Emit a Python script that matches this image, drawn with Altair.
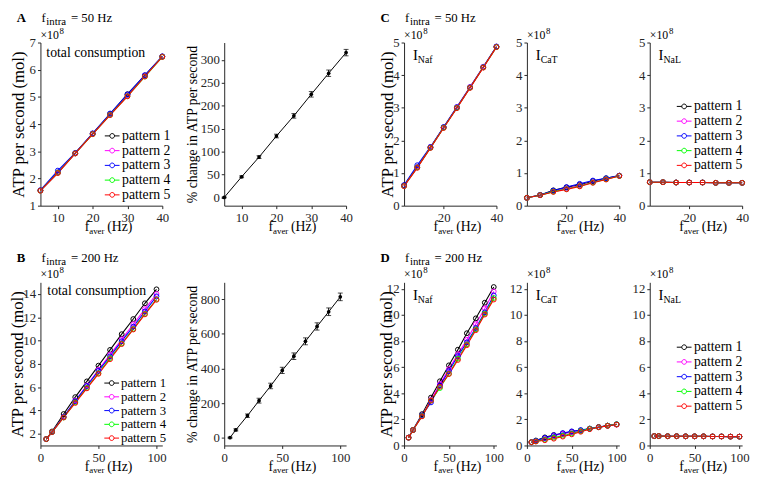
import altair as alt
import pandas as pd

FONT = "Liberation Serif"
INK = "#262626"

# ---------------- data ----------------
patterns = ["pattern 1", "pattern 2", "pattern 3", "pattern 4", "pattern 5"]
pattern_colors = ["#000000", "#ff00ff", "#0000ff", "#00ff00", "#ff0000"]

f_aver_50 = [5, 10, 15, 20, 25, 30, 35, 40]
f_aver_200 = [5, 10, 20, 30, 40, 50, 60, 70, 80, 90, 100]

total_50 = {
    "pattern 1": [1.56, 2.22, 2.93, 3.65, 4.37, 5.10, 5.79, 6.49],
    "pattern 2": [1.55, 2.21, 2.92, 3.64, 4.35, 5.06, 5.77, 6.48],
    "pattern 3": [1.57, 2.29, 2.94, 3.66, 4.39, 5.09, 5.80, 6.49],
    "pattern 4": [1.55, 2.21, 2.92, 3.63, 4.34, 5.03, 5.75, 6.47],
    "pattern 5": [1.55, 2.20, 2.92, 3.63, 4.33, 5.02, 5.75, 6.47],
}
pct_50_mean = [0, 45, 88, 134, 178, 225, 271, 316]
pct_50_err = [1, 2, 3, 4, 5, 6, 7, 7]

total_200 = {
    "pattern 1": [1.55, 2.20, 3.70, 5.15, 6.50, 7.85, 9.20, 10.55, 11.85, 13.20, 14.40],
    "pattern 2": [1.55, 2.15, 3.45, 4.85, 6.15, 7.50, 8.80, 10.10, 11.40, 12.70, 14.00],
    "pattern 3": [1.55, 2.15, 3.45, 4.80, 6.10, 7.40, 8.65, 9.95, 11.20, 12.50, 13.80],
    "pattern 4": [1.55, 2.15, 3.40, 4.70, 5.95, 7.20, 8.50, 9.75, 11.00, 12.30, 13.55],
    "pattern 5": [1.55, 2.15, 3.40, 4.65, 5.90, 7.15, 8.40, 9.70, 10.95, 12.25, 13.50],
}
pct_200_mean = [0, 45, 127, 214, 299, 389, 471, 557, 643, 728, 814]
pct_200_err = [3, 6, 10, 14, 16, 18, 19, 20, 21, 22, 22]

naf_50 = {
    "pattern 1": [0.62, 1.18, 1.78, 2.40, 3.00, 3.62, 4.24, 4.87],
    "pattern 2": [0.60, 1.18, 1.80, 2.40, 3.02, 3.64, 4.26, 4.87],
    "pattern 3": [0.63, 1.24, 1.80, 2.41, 3.02, 3.63, 4.25, 4.88],
    "pattern 4": [0.60, 1.17, 1.78, 2.39, 3.00, 3.62, 4.24, 4.86],
    "pattern 5": [0.60, 1.16, 1.77, 2.38, 2.99, 3.61, 4.23, 4.86],
}
cat_50 = {
    "pattern 1": [0.24, 0.33, 0.47, 0.56, 0.64, 0.75, 0.84, 0.92],
    "pattern 2": [0.24, 0.32, 0.44, 0.53, 0.62, 0.72, 0.82, 0.92],
    "pattern 3": [0.24, 0.33, 0.46, 0.57, 0.67, 0.77, 0.84, 0.92],
    "pattern 4": [0.24, 0.32, 0.43, 0.51, 0.60, 0.71, 0.81, 0.91],
    "pattern 5": [0.24, 0.32, 0.42, 0.50, 0.59, 0.70, 0.80, 0.91],
}
nal_50 = {
    "pattern 1": [0.72, 0.72, 0.71, 0.71, 0.71, 0.70, 0.70, 0.70],
    "pattern 2": [0.72, 0.72, 0.71, 0.71, 0.71, 0.70, 0.70, 0.70],
    "pattern 3": [0.72, 0.72, 0.71, 0.71, 0.71, 0.70, 0.70, 0.70],
    "pattern 4": [0.72, 0.72, 0.71, 0.71, 0.71, 0.70, 0.70, 0.70],
    "pattern 5": [0.72, 0.72, 0.71, 0.71, 0.71, 0.70, 0.70, 0.70],
}
naf_200 = {
    "pattern 1": [0.60, 1.20, 2.40, 3.67, 4.92, 6.14, 7.34, 8.60, 9.74, 10.94, 12.14],
    "pattern 2": [0.60, 1.18, 2.30, 3.50, 4.70, 5.85, 7.00, 8.10, 9.30, 10.50, 11.80],
    "pattern 3": [0.60, 1.18, 2.30, 3.30, 4.60, 5.70, 6.85, 7.90, 9.00, 10.20, 11.50],
    "pattern 4": [0.60, 1.18, 2.25, 3.45, 4.40, 5.50, 6.65, 7.75, 8.90, 10.10, 11.30],
    "pattern 5": [0.60, 1.18, 2.23, 3.43, 4.50, 5.47, 6.55, 7.68, 8.83, 10.03, 11.18],
}
cat_200 = {
    "pattern 1": [0.25, 0.38, 0.62, 0.80, 0.92, 1.05, 1.15, 1.28, 1.40, 1.52, 1.62],
    "pattern 2": [0.25, 0.35, 0.55, 0.75, 0.90, 1.02, 1.13, 1.27, 1.40, 1.52, 1.60],
    "pattern 3": [0.25, 0.36, 0.58, 0.78, 0.95, 1.08, 1.18, 1.30, 1.42, 1.52, 1.62],
    "pattern 4": [0.25, 0.32, 0.45, 0.60, 0.75, 0.92, 1.10, 1.28, 1.40, 1.52, 1.62],
    "pattern 5": [0.25, 0.30, 0.40, 0.52, 0.68, 0.85, 1.05, 1.25, 1.40, 1.50, 1.60],
}
nal_200 = {
    "pattern 1": [0.72, 0.72, 0.71, 0.71, 0.70, 0.70, 0.70, 0.69, 0.69, 0.68, 0.68],
    "pattern 2": [0.72, 0.72, 0.71, 0.71, 0.70, 0.70, 0.70, 0.69, 0.69, 0.68, 0.68],
    "pattern 3": [0.72, 0.72, 0.71, 0.71, 0.70, 0.70, 0.70, 0.69, 0.69, 0.68, 0.68],
    "pattern 4": [0.72, 0.72, 0.71, 0.71, 0.70, 0.70, 0.70, 0.69, 0.69, 0.68, 0.68],
    "pattern 5": [0.72, 0.72, 0.71, 0.71, 0.70, 0.70, 0.70, 0.69, 0.69, 0.68, 0.68],
}

ticks_50 = [10, 20, 30, 40]
ticks_50_c = [20, 40]
ticks_200 = [0, 50, 100]

# ---------------- layout ----------------
H = 166
W_WIDE = 124
W_NARROW = 94
ROW_GAP = 78
HEAD_Y = -21

LEGEND_PATH = "M-1.25,0L-0.4,0M0.4,0L1.25,0M-0.4,0A0.4,0.4,0,1,1,0.4,0A0.4,0.4,0,1,1,-0.4,0"
DUMMY = pd.DataFrame({"k": [0]})

AXIS_STYLE = dict(labelFont=FONT, labelFontSize=13, labelColor=INK, titleFont=FONT,
                  titleFontWeight="normal", titleColor="black", domainColor=INK,
                  tickColor=INK, tickSize=3, grid=False,
                  labelFlush=False, labelOverlap=False, domainWidth=1, tickWidth=1)


def axis(values, pad=2, **kw):
    return alt.Axis(values=values, labelPadding=pad, **AXIS_STYLE, **kw)


def txt(text, x, y, size=13, weight="normal"):
    return alt.Chart(DUMMY).mark_text(
        text=text, font=FONT, fontSize=size, fontWeight=weight,
        align="left", baseline="alphabetic", color="black"
    ).encode(x=alt.value(x), y=alt.value(y))


def x_title(w):
    c = w / 2 + 3
    return [txt("f", c - 20, H + 26, 14), txt("aver", c - 15.3, H + 28.5, 9),
            txt("(Hz)", c + 3, H + 26, 14)]


def heading(letter, freq_text):
    return [txt(letter, -24, HEAD_Y, 13, "bold"), txt("f", 1, HEAD_Y, 13),
            txt("intra", 6, HEAD_Y + 3, 11), txt(freq_text, 31, HEAD_Y, 13)]


def times_ten():
    return [txt("×10", 0, -4, 12), txt("8", 19.5, -9, 9)]


def current_label(sub):
    return [txt("I", 9, 18, 15), txt(sub, 14, 21, 10)]


def long_table(x, table):
    return pd.DataFrame([{"f": xi, "v": v, "pattern": p}
                         for p in patterns for xi, v in zip(x, table[p])])


def pattern_legend(lx, ly, row_pad, size=14):
    return alt.Legend(orient="none", legendX=lx, legendY=ly, title=None,
                      labelFont=FONT, labelFontSize=size, labelColor="black",
                      symbolType=LEGEND_PATH, symbolSize=144, symbolStrokeWidth=1,
                      symbolFillColor="transparent", padding=0, rowPadding=row_pad,
                      labelOffset=3, offset=0)


def atp_panel(x, table, xdom, xticks, ydom, yticks, w, extras, ytitle_x=None, legend=None):
    data = long_table(x, table)
    if ytitle_x is None:
        yaxis = axis(yticks, title=None)
    else:
        yaxis = axis(yticks, title="ATP per second (mol)", titleFontSize=17,
                     titleX=ytitle_x, titleY=H / 2, titleAngle=270,
                     titleBaseline="bottom", titleAlign="center")
    X = alt.X("f:Q", scale=alt.Scale(domain=xdom, nice=False, zero=False),
              axis=axis(xticks, pad=3, title=None))
    Y = alt.Y("v:Q", scale=alt.Scale(domain=ydom, nice=False, zero=False), axis=yaxis)
    cscale = alt.Scale(domain=patterns, range=pattern_colors)
    color = alt.Color("pattern:N", scale=cscale, legend=legend)
    line = alt.Chart(data).mark_line(strokeWidth=1.1).encode(x=X, y=Y, color=color)
    pts = alt.Chart(data).mark_point(filled=False, size=24, strokeWidth=1, opacity=1).encode(
        x=X, y=Y, color=color)
    return alt.layer(line, pts, *extras).properties(width=w, height=H)


def pct_panel(x, mean, err, xdom, xticks, ydom, yticks, w, extras):
    df = pd.DataFrame({"f": x, "m": mean,
                       "lo": [m - e for m, e in zip(mean, err)],
                       "hi": [m + e for m, e in zip(mean, err)]})
    X = alt.X("f:Q", scale=alt.Scale(domain=xdom, nice=False, zero=False),
              axis=axis(xticks, pad=3, title=None))
    ys = alt.Scale(domain=ydom, nice=False, zero=False)
    ya = axis(yticks, title="% change in ATP per second", titleFontSize=14,
              titleX=-25, titleY=H / 2, titleAngle=270, titleBaseline="bottom",
              titleAlign="center")
    base = alt.Chart(df)
    line = base.mark_line(color="black", strokeWidth=1).encode(x=X, y=alt.Y("m:Q", scale=ys, axis=ya))
    dots = base.mark_circle(color="black", size=14, opacity=1).encode(x=X, y=alt.Y("m:Q", scale=ys, axis=ya))
    bars = base.mark_rule(color="black", strokeWidth=1).encode(
        x=X, y=alt.Y("lo:Q", scale=ys, axis=ya), y2="hi:Q")
    cap_lo = base.mark_tick(orient="horizontal", color="black", size=5, thickness=1).encode(
        x=X, y=alt.Y("lo:Q", scale=ys, axis=ya))
    cap_hi = base.mark_tick(orient="horizontal", color="black", size=5, thickness=1).encode(
        x=X, y=alt.Y("hi:Q", scale=ys, axis=ya))
    return alt.layer(bars, cap_lo, cap_hi, line, dots, *extras).properties(width=w, height=H)


def spacer(w):
    return alt.Chart(DUMMY).mark_point(opacity=0).encode(
        x=alt.value(0), y=alt.value(0)).properties(width=w, height=H)


# ---------------- panels ----------------
A1 = atp_panel(f_aver_50, total_50, [5, 40], ticks_50, [1, 7], [1, 2, 3, 4, 5, 6, 7], W_WIDE,
               heading("A", "= 50 Hz") + times_ten() + [txt("total consumption", 6, 15, 14)] + x_title(W_WIDE),
               ytitle_x=-13, legend=pattern_legend(66, 88, 1))
A2 = pct_panel(f_aver_50, pct_50_mean, pct_50_err, [5, 40], ticks_50, [-18, 338],
               [0, 50, 100, 150, 200, 250, 300], W_WIDE, x_title(W_WIDE))
C1 = atp_panel(f_aver_50, naf_50, [5, 40], ticks_50_c, [0, 5], [0, 1, 2, 3, 4, 5], W_NARROW,
               heading("C", "= 50 Hz") + times_ten() + current_label("Naf") + x_title(W_NARROW),
               ytitle_x=-8)
C2 = atp_panel(f_aver_50, cat_50, [5, 40], ticks_50_c, [0, 5], [0, 1, 2, 3, 4, 5], W_NARROW,
               times_ten() + current_label("CaT") + x_title(W_NARROW))
C3 = atp_panel(f_aver_50, nal_50, [5, 40], ticks_50_c, [0, 5], [0, 1, 2, 3, 4, 5], W_NARROW,
               times_ten() + current_label("NaL") + x_title(W_NARROW),
               legend=pattern_legend(28, 58, 1))

B1 = atp_panel(f_aver_200, total_200, [0, 105], ticks_200, [1, 15], [2, 4, 6, 8, 10, 12, 14], W_WIDE,
               heading("B", "= 200 Hz") + times_ten() + [txt("total consumption", 7, 13, 14)] + x_title(W_WIDE),
               ytitle_x=-14, legend=pattern_legend(66, 96, -2, 13))
B2 = pct_panel(f_aver_200, pct_200_mean, pct_200_err, [0, 105], ticks_200, [-45, 898],
               [0, 200, 400, 600, 800], W_WIDE, x_title(W_WIDE))
D1 = atp_panel(f_aver_200, naf_200, [0, 103], ticks_200, [0, 12.5], [0, 2, 4, 6, 8, 10, 12], W_NARROW,
               heading("D", "= 200 Hz") + times_ten() + current_label("Naf") + x_title(W_NARROW),
               ytitle_x=-9)
D2 = atp_panel(f_aver_200, cat_200, [0, 103], ticks_200, [0, 12.5], [0, 2, 4, 6, 8, 10, 12], W_NARROW,
               times_ten() + current_label("CaT") + x_title(W_NARROW))
D3 = atp_panel(f_aver_200, nal_200, [0, 103], ticks_200, [0, 12.5], [0, 2, 4, 6, 8, 10, 12], W_NARROW,
               times_ten() + current_label("NaL") + x_title(W_NARROW),
               legend=pattern_legend(28, 59, 1))

row1 = [A1, spacer(63), A2, spacer(59), C1, spacer(31), C2, spacer(31), C3]
row2 = [B1, spacer(63), B2, spacer(59), D1, spacer(31), D2, spacer(31), D3]

chart = alt.concat(
    *row1, *row2, columns=9, spacing={"row": ROW_GAP, "column": 0},
    bounds="flush", align="each"
).resolve_scale(
    color="independent"
).properties(
    padding=0
).configure_view(
    stroke=None
).configure_axis(labelPadding=2, **AXIS_STYLE)

chart.save("out.html", embed_options={"renderer": "svg", "actions": False})
